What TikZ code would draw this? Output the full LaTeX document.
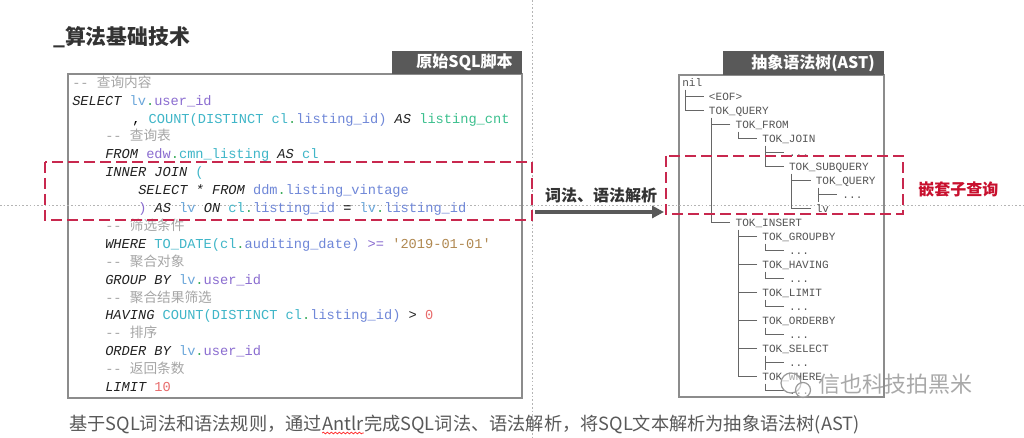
\documentclass[tikz,border=0pt]{standalone}
\usepackage{fontspec}
\setmainfont{Noto Sans CJK SC}
\newfontfamily\cjk{Noto Sans CJK SC}
\setmonofont{Liberation Mono}
\usetikzlibrary{arrows.meta,calc,decorations.pathmorphing}
\definecolor{kw}{HTML}{222222}
\definecolor{cm}{HTML}{A6A6A6}
\definecolor{lvc}{HTML}{6AA6DA}
\definecolor{dotc}{HTML}{3DAE5C}
\definecolor{fnc}{HTML}{40B6C8}
\definecolor{tbl}{HTML}{8A6CD0}
\definecolor{alc}{HTML}{3CC08E}
\definecolor{strc}{HTML}{B08850}
\definecolor{numc}{HTML}{E86B6B}
\definecolor{bluc}{HTML}{6F87D8}
\definecolor{redd}{HTML}{C8284E}
\definecolor{hdr}{HTML}{595959}
\definecolor{boxc}{HTML}{8C8C8C}
\definecolor{treec}{HTML}{555555}
\definecolor{treeline}{HTML}{666666}
\definecolor{guidec}{HTML}{B4B4B4}
\definecolor{titlec}{HTML}{333333}
\definecolor{capc}{HTML}{595959}
\definecolor{nestc}{HTML}{C8102E}
\newcommand\kwd[1]{{\color{kw}\itshape#1}}
\newcommand\cmt[1]{{\color{cm}#1}}
\newcommand\dt{{\color{dotc}.}}
\newcommand\clr[2]{{\color{#1}#2}}
\newcommand\lastch[2]{\draw[tl] ($(t#1.base west)+(3,3)$) |- ($(t#2.base west)+(-5,-4)$);}
\newcommand\midch[1]{\draw[tl] ($(t#1.base west)+(-5,-4)$) -- ++(-18.7,0);}
\begin{document}
\begin{tikzpicture}[x=0.75pt,y=-0.75pt,
  code/.style={anchor=base west,inner sep=0pt,font=\ttfamily\fontsize{10.25}{12}\selectfont},
  tr/.style={anchor=base west,inner sep=0pt,text=treec,font=\ttfamily\fontsize{8.3}{10}\selectfont},
  tl/.style={draw=treeline,line width=0.7pt},
  redbox/.style={draw=redd,line width=1.9pt,dash pattern=on 8pt off 4pt},
  guide/.style={draw=guidec,line width=0.6pt,dash pattern=on 1.2pt off 1.6pt},
  hdrtext/.style={anchor=east,inner sep=0pt,text=white,font=\bfseries\fontsize{12}{14}\selectfont},
  panel/.style={draw=boxc,line width=1.1pt,fill=white},
  captext/.style={anchor=base west,inner sep=0pt,text=capc,font=\fontsize{13.65}{16}\selectfont},
]
\useasboundingbox (0,0) rectangle (1024,438);
\fill[white] (0,0) rectangle (1024,438);
% title
\node[anchor=west,inner sep=0pt,text=titlec,font=\bfseries\fontsize{15.6}{18}\selectfont] (title) at (53,37) {\_算法基础技术};
% panels
\path[panel] (68,74) rectangle (522,398);
\fill[hdr] (392,51) rectangle (522,74);
\node[hdrtext] (h1) at (513,62.5) {原始SQL脚本};
\path[panel] (679,75) rectangle (884,397);
\fill[hdr] (723,51) rectangle (884,75);
\node[hdrtext] (h2) at (875,63) {抽象语法树(AST)};
% guides
\draw[guide] (532,0) -- (532,438);
\draw[guide] (0,205) -- (1024,205);
% code
\node[code] (c0) at (72,87.3) {\cmt{-- {\cjk 查询内容}}};
\node[code] (c1) at (72,105.2) {\kwd{SELECT} \clr{lvc}{lv}\dt\clr{tbl}{user\_id}};
\node[code] (c2) at (132,123.1) {, \clr{fnc}{COUNT(DISTINCT cl}\dt\clr{bluc}{listing\_id)} \kwd{AS} \clr{alc}{listing\_cnt}};
\node[code] (c3) at (105,141.0) {\cmt{-- {\cjk 查询表}}};
\node[code] (c4) at (105,158.9) {\kwd{FROM} \clr{tbl}{edw}\dt\clr{fnc}{cmn\_listing} \kwd{AS} \clr{fnc}{cl}};
\node[code] (c5) at (105,176.8) {\kwd{INNER JOIN} \clr{fnc}{(}};
\node[code] (c6) at (138,194.7) {\kwd{SELECT * FROM} \clr{bluc}{ddm}\dt\clr{bluc}{listing\_vintage}};
\node[code] (c7) at (138,212.6) {\clr{tbl}{)} \kwd{AS} \clr{lvc}{lv} \kwd{ON} \clr{fnc}{cl}\dt\clr{bluc}{listing\_id} = \clr{lvc}{lv}\dt\clr{bluc}{listing\_id}};
\node[code] (c8) at (105,230.5) {\cmt{-- {\cjk 筛选条件}}};
\node[code] (c9) at (105,248.4) {\kwd{WHERE} \clr{fnc}{TO\_DATE(cl}\dt\clr{bluc}{auditing\_date)} \clr{tbl}{>=} \clr{strc}{'2019-01-01'}};
\node[code] (c10) at (105,266.3) {\cmt{-- {\cjk 聚合对象}}};
\node[code] (c11) at (105,284.2) {\kwd{GROUP BY} \clr{lvc}{lv}\dt\clr{tbl}{user\_id}};
\node[code] (c12) at (105,302.1) {\cmt{-- {\cjk 聚合结果筛选}}};
\node[code] (c13) at (105,320.0) {\kwd{HAVING} \clr{fnc}{COUNT(DISTINCT cl}\dt\clr{bluc}{listing\_id)} \clr{kw}{>} \clr{numc}{0}};
\node[code] (c14) at (105,337.9) {\cmt{-- {\cjk 排序}}};
\node[code] (c15) at (105,355.8) {\kwd{ORDER BY} \clr{lvc}{lv}\dt\clr{tbl}{user\_id}};
\node[code] (c16) at (105,373.7) {\cmt{-- {\cjk 返回条数}}};
\node[code] (c17) at (105,391.6) {\kwd{LIMIT} \clr{numc}{10}};
% tree
\foreach \j/\l/\t in {0/0/nil,1/1/{<EOF>},2/1/TOK\_QUERY,3/2/TOK\_FROM,4/3/TOK\_JOIN,5/4/{...},6/4/TOK\_SUBQUERY,7/5/TOK\_QUERY,8/6/{...},9/5/lv,10/2/TOK\_INSERT,11/3/TOK\_GROUPBY,12/4/{...},13/3/TOK\_HAVING,14/4/{...},15/3/TOK\_LIMIT,16/4/{...},17/3/TOK\_ORDERBY,18/4/{...},19/3/TOK\_SELECT,20/4/{...},21/3/TOK\_WHERE,22/4/{...}}
  \node[tr] (t\j) at ({682+26.7*\l},{86.6+14*\j}) {\t};
\midch{1}\lastch{0}{2}
\midch{3}\lastch{2}{10}
\lastch{3}{4}
\midch{5}\lastch{4}{6}
\midch{7}\lastch{6}{9}
\lastch{7}{8}\draw[tl] ($(t8.base west)+(-23.7,-4)$) -- ++(0,7);
\midch{11}\midch{13}\midch{15}\midch{17}\midch{19}\lastch{10}{21}
\lastch{11}{12}\lastch{13}{14}\lastch{15}{16}\lastch{17}{18}\lastch{21}{22}
\lastch{19}{20}\draw[tl] ($(t20.base west)+(-23.7,-4)$) -- ++(0,7);
% red dashed boxes
\draw[redbox] (45,162) rectangle (532,220);
\draw[redbox] (666,156) rectangle (903,214);
\node[anchor=west,inner sep=0pt,text=nestc,font=\bfseries\fontsize{12}{14}\selectfont] (nest) at (918,189) {嵌套子查询};
% arrow
\coordinate (as) at (535,212);
\coordinate (ae) at (664,212);
\draw[hdr,line width=3pt,-{Triangle[length=9pt,width=9pt]}] (as) -- (ae);
\node[inner sep=0pt,text=titlec,font=\bfseries\fontsize{12}{14}\selectfont] (al) at (601,195) {词法、语法解析};
% caption
\node[captext] (cap1) at (69,430) {基于SQL词法和语法规则，通过};
\node[captext] (cap2) at (cap1.base east) {Antlr};
\node[captext] (cap3) at (cap2.base east) {完成SQL词法、语法解析，将SQL文本解析为抽象语法树(AST)};
\draw[red!80,line width=0.6pt,decorate,decoration={snake,amplitude=0.6pt,segment length=3pt}] ($(cap2.base west)+(0,3)$) -- ($(cap2.base east)+(0,3)$);
% watermark
\draw[black!40,line width=0.9pt,fill=white,fill opacity=0.5] (791,383) circle (10);
\draw[black!40,line width=0.9pt,fill=white,fill opacity=0.5] (803,390) circle (7.5);
\node[anchor=west,inner sep=0pt,text=black!45,opacity=0.75,font=\fontsize{16.5}{18}\selectfont] (wm) at (818,384) {信也科技拍黑米};
\end{tikzpicture}
\end{document}
